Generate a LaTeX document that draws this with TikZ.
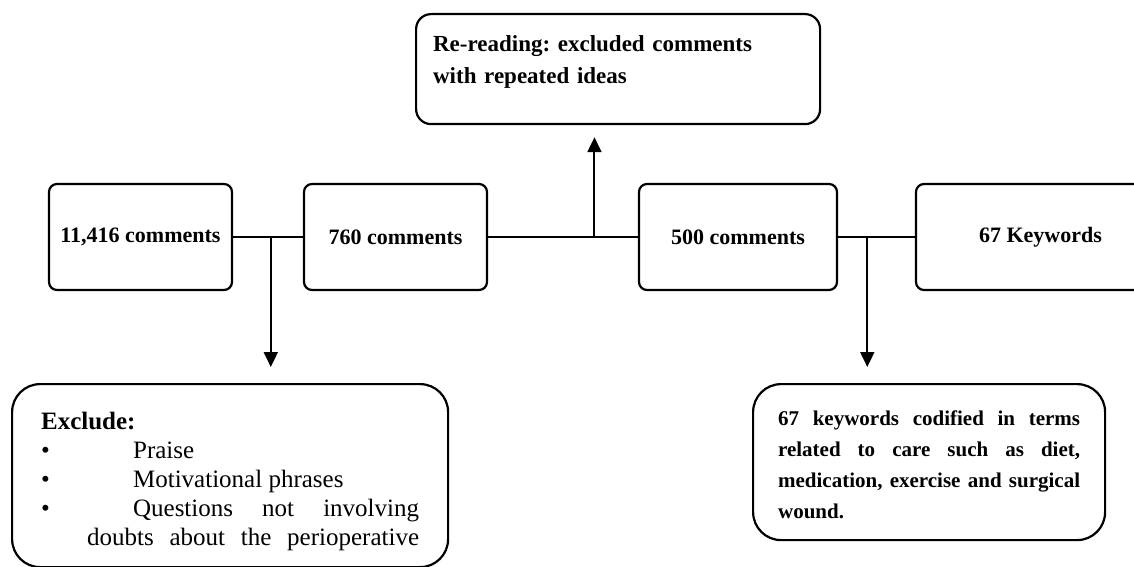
\documentclass[tikz,border=0pt]{standalone}
\usepackage{fontspec}
\setmainfont{Liberation Serif}
\usetikzlibrary{arrows.meta,calc}
\frenchspacing
\hyphenpenalty=10000
\exhyphenpenalty=10000

\begin{document}
\begin{tikzpicture}[x=1pt,y=-1pt,
        stage/.style={draw, line width=2.2pt, rounded corners=8pt, minimum height=106pt, inner sep=0pt,
            font=\fontsize{22}{26}\selectfont\bfseries},
        note/.style={draw, line width=2.2pt, anchor=north west, inner ysep=0pt, align=justify},
        flow/.style={line width=2pt},
        outflow/.style={line width=2pt, -{Triangle[length=15pt,width=14pt]}}]
    \useasboundingbox (0,0) rectangle (1134,567);
    \clip (0,0) rectangle (1134,567);

    % middle row
    \node[stage, minimum width=183pt] (total) at (140.5,237) {11,416 comments};
    \node[stage, minimum width=183pt] (kept) at (395.5,237) {760 comments};
    \node[stage, minimum width=198pt] (sample) at (738,237) {500 comments};
    \node[stage, minimum width=249pt] (keywords) at (1040.5,237) {67 Keywords};

    % side boxes
    \node[note, align=left, rounded corners=15pt, text width=370pt, inner xsep=17pt, text height=37pt, text depth=73pt,
        font=\fontsize{23}{32}\selectfont\bfseries] (reread) at (415,13)
        {Re-reading: excluded comments\\ with repeated ideas};
    \node[note, rounded corners=28pt, text width=378pt, inner xsep=29pt, text height=45pt, text depth=138pt,
        font=\fontsize{25}{29}\selectfont] (exclude) at (11,383)
        {\tolerance=10000
        \textbf{Exclude:}\par
        \makebox[92pt][l]{•}Praise\par
        \makebox[92pt][l]{•}Motivational phrases\par
        \hangindent=46pt\hangafter=1\parfillskip=0pt
        \makebox[92pt][l]{•}Questions not involving doubts about the perioperative\par};
    \node[note, rounded corners=28pt, text width=302pt, inner xsep=25pt, text height=41pt, text depth=115pt,
        font=\fontsize{21}{31}\selectfont\bfseries] (codify) at (752,383)
        {\tolerance=10000
        67 keywords codified in terms related to care such as diet, medication, exercise and surgical wound.};

    % connectors
    \draw[flow] (total) -- (kept);
    \draw[flow] (kept) -- (sample);
    \draw[flow] (sample) -- (keywords);
    \coordinate (cut1) at ($(total.east)!0.54!(kept.west)$);
    \coordinate (cut2) at ($(kept.east)!0.71!(sample.west)$);
    \coordinate (cut3) at ($(sample.east)!0.38!(keywords.west)$);
    \draw[outflow, shorten >=16pt] (cut1) -- (cut1 |- exclude.north);
    \draw[outflow, shorten >=12pt] (cut2) -- (cut2 |- reread.south);
    \draw[outflow, shorten >=16pt] (cut3) -- (cut3 |- codify.north);
\end{tikzpicture}
\end{document}
